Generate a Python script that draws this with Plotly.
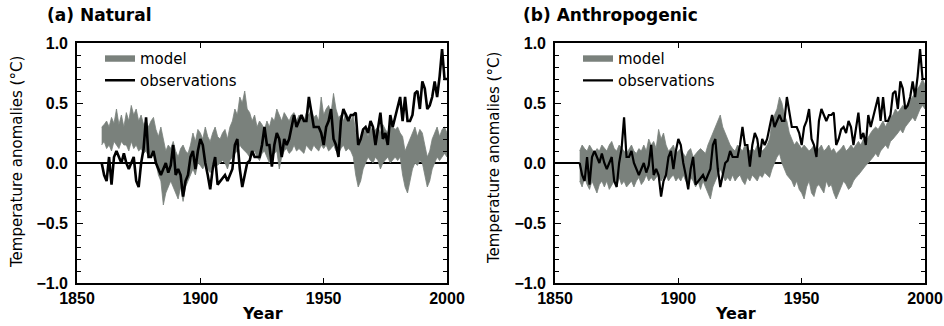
import plotly.graph_objects as go

years = list(range(1860, 2001))

observations = [
    0.00, -0.10, -0.15, 0.05, -0.18, 0.05, 0.10, 0.05, 0.00, 0.08,
    0.00, -0.05, 0.00, 0.05, -0.15, -0.20, 0.00, 0.12, 0.38, 0.05,
    0.05, 0.10, 0.00, -0.05, -0.10, -0.05, 0.00, -0.08, -0.02, 0.15,
    -0.10, -0.05, -0.10, -0.28, -0.15, -0.10, 0.05, 0.10, -0.05, 0.10,
    0.20, 0.15, 0.00, -0.10, -0.22, -0.05, 0.05, -0.18, -0.15, -0.12,
    -0.10, -0.15, -0.10, -0.05, 0.15, 0.20, -0.05, -0.20, -0.10, 0.00,
    0.02, 0.10, 0.05, 0.05, 0.05, 0.15, 0.30, 0.15, 0.15, -0.03,
    0.15, 0.25, 0.20, 0.05, 0.20, 0.15, 0.20, 0.30, 0.40, 0.30,
    0.35, 0.40, 0.35, 0.35, 0.55, 0.42, 0.30, 0.30, 0.30, 0.25,
    0.15, 0.30, 0.35, 0.45, 0.20, 0.15, 0.05, 0.35, 0.45, 0.40,
    0.35, 0.40, 0.40, 0.42, 0.15, 0.20, 0.28, 0.30, 0.25, 0.35,
    0.30, 0.15, 0.30, 0.42, 0.20, 0.25, 0.15, 0.40, 0.30, 0.38,
    0.45, 0.55, 0.35, 0.55, 0.35, 0.35, 0.40, 0.58, 0.60, 0.45,
    0.68, 0.62, 0.45, 0.48, 0.55, 0.68, 0.55, 0.72, 0.95, 0.70,
    0.70,
]

natural_upper = [
    0.30, 0.32, 0.35, 0.30, 0.38, 0.33, 0.45, 0.32, 0.40, 0.30,
    0.42, 0.35, 0.48, 0.40, 0.45, 0.35, 0.40, 0.32, 0.35, 0.30,
    0.35, 0.38, 0.28, 0.22, 0.30, 0.20, 0.10, 0.15, 0.12, 0.18,
    0.10, 0.05, 0.12, 0.15, 0.10, 0.08, 0.15, 0.25, 0.18, 0.28,
    0.25, 0.20, 0.30, 0.22, 0.18, 0.25, 0.30, 0.22, 0.20, 0.25,
    0.28, 0.20, 0.30, 0.35, 0.45, 0.40, 0.55, 0.50, 0.60, 0.45,
    0.42, 0.35, 0.40, 0.30, 0.35, 0.32, 0.28, 0.35, 0.30, 0.38,
    0.35, 0.45, 0.40, 0.35, 0.42, 0.38, 0.35, 0.40, 0.42, 0.35,
    0.40, 0.38, 0.35, 0.42, 0.40, 0.45, 0.38, 0.40, 0.35, 0.55,
    0.40, 0.45, 0.48, 0.42, 0.58, 0.45, 0.38, 0.40, 0.35, 0.42,
    0.38, 0.35, 0.40, 0.25, 0.15, 0.20, 0.25, 0.28, 0.22, 0.30,
    0.25, 0.28, 0.30, 0.25, 0.32, 0.28, 0.25, 0.35, 0.30, 0.28,
    0.30, 0.25, 0.22, 0.10, 0.15, 0.20, 0.25, 0.30, 0.22, 0.28,
    0.25, 0.15, 0.05, 0.10, 0.20, 0.25, 0.30, 0.22, 0.28, 0.30,
    0.25,
]

natural_lower = [
    0.15, 0.18, 0.12, 0.15, 0.10, 0.18, 0.15, 0.12, 0.18, 0.15,
    0.15, 0.10, 0.18, 0.12, 0.15, 0.10, 0.12, 0.08, 0.10, 0.05,
    0.05, 0.10, 0.00, -0.10, -0.15, -0.35, -0.25, -0.20, -0.15, -0.20,
    -0.25, -0.30, -0.20, -0.32, -0.20, -0.15, -0.10, -0.05, -0.10, 0.00,
    -0.02, -0.05, 0.00, -0.05, -0.08, 0.00, 0.02, -0.02, 0.00, 0.02,
    0.00, -0.05, 0.02, 0.05, 0.08, 0.10, 0.15, 0.12, 0.10, 0.08,
    0.05, 0.08, 0.10, 0.05, 0.02, 0.08, 0.10, 0.05, 0.00, 0.05,
    0.08, 0.10, -0.05, 0.05, 0.10, 0.12, 0.08, 0.10, 0.15, 0.10,
    0.12, 0.10, 0.08, 0.15, 0.12, 0.10, 0.15, 0.12, 0.10, 0.15,
    0.12, 0.15, 0.10, 0.12, 0.15, 0.10, 0.08, 0.12, 0.15, 0.10,
    0.12, 0.10, 0.05, -0.10, -0.20, -0.15, -0.05, 0.00, 0.05, 0.02,
    0.00, 0.05, 0.02, -0.05, 0.00, 0.02, 0.05, 0.00, 0.02, 0.05,
    0.02, 0.05, -0.10, -0.20, -0.25, -0.15, -0.05, 0.00, -0.02, 0.02,
    0.00, -0.10, -0.20, -0.15, -0.05, 0.00, 0.05, 0.02, 0.05, 0.08,
    0.05,
]

anthro_upper = [
    0.10, 0.15, 0.12, 0.10, 0.15, 0.12, 0.08, 0.12, 0.10, 0.15,
    0.12, 0.10, 0.15, 0.18, 0.12, 0.10, 0.15, 0.12, 0.10, 0.08,
    0.12, 0.15, 0.10, 0.08, 0.12, 0.10, 0.15, 0.10, 0.20, 0.15,
    0.18, 0.12, 0.28, 0.20, 0.25, 0.15, 0.10, 0.12, 0.15, 0.08,
    0.10, 0.12, 0.08, 0.05, 0.10, 0.12, 0.05, 0.08, 0.10, 0.12,
    0.10, 0.08, 0.15, 0.20, 0.25, 0.30, 0.35, 0.40, 0.30, 0.25,
    0.20, 0.15, 0.12, 0.10, 0.15, 0.12, 0.10, 0.15, 0.12, 0.10,
    0.12, 0.10, 0.15, 0.12, 0.10, 0.12, 0.15, 0.20, 0.35, 0.40,
    0.45, 0.55, 0.50, 0.40, 0.35, 0.25, 0.20, 0.15, 0.18, 0.15,
    0.12, 0.15, 0.12, 0.10, 0.12, 0.15, 0.10, 0.12, 0.15, 0.10,
    0.12, 0.15, 0.10, 0.12, 0.08, 0.10, 0.12, 0.15, 0.10, 0.12,
    0.15, 0.12, 0.15, 0.18, 0.15, 0.20, 0.18, 0.22, 0.25, 0.28,
    0.30, 0.28, 0.32, 0.35, 0.30, 0.35, 0.38, 0.40, 0.45, 0.42,
    0.45, 0.48, 0.45, 0.50, 0.52, 0.55, 0.58, 0.62, 0.65, 0.70,
    0.65,
]

anthro_lower = [
    -0.15, -0.20, -0.12, -0.18, -0.22, -0.15, -0.20, -0.25, -0.18, -0.15,
    -0.20, -0.15, -0.22, -0.18, -0.15, -0.20, -0.12, -0.18, -0.15, -0.20,
    -0.18, -0.15, -0.20, -0.15, -0.12, -0.18, -0.15, -0.10, -0.15, -0.12,
    -0.15, -0.12, -0.10, -0.15, -0.12, -0.10, -0.15, -0.12, -0.10, -0.15,
    -0.12, -0.15, -0.10, -0.15, -0.18, -0.12, -0.15, -0.20, -0.15, -0.22,
    -0.15, -0.20, -0.25, -0.30, -0.20, -0.15, -0.10, -0.05, -0.10, -0.15,
    -0.12, -0.15, -0.10, -0.15, -0.12, -0.10, -0.15, -0.18, -0.12, -0.15,
    -0.10, -0.12, -0.15, -0.10, -0.12, -0.08, -0.10, -0.12, -0.05, 0.00,
    0.05, 0.08, 0.00, -0.05, -0.10, -0.12, -0.15, -0.20, -0.15, -0.22,
    -0.25, -0.30, -0.20, -0.15, -0.25, -0.28, -0.20, -0.18, -0.22, -0.25,
    -0.15, -0.20, -0.18, -0.25, -0.30, -0.25, -0.20, -0.15, -0.18, -0.22,
    -0.20, -0.15, -0.12, -0.10, -0.08, -0.05, -0.02, 0.00, 0.02, 0.05,
    0.08, 0.05, 0.10, 0.12, 0.15, 0.12, 0.18, 0.20, 0.22, 0.25,
    0.28, 0.25, 0.30, 0.32, 0.35, 0.38, 0.35, 0.40, 0.45, 0.48,
    0.45,
]

panel_titles = ["(a) Natural", "(b) Anthropogenic"]
x_ticks = [1850, 1900, 1950, 2000]
y_ticks = [-1.0, -0.5, 0.0, 0.5, 1.0]

W, H = 944, 326
MT, MB = 43, 43
PH = H - MT - MB
BAND = "rgb(122,129,124)"

fig = go.Figure()

panels = [
    dict(upper=natural_upper, lower=natural_lower, xa="x", ya="y", legend="legend", lw=2.6),
    dict(upper=anthro_upper, lower=anthro_lower, xa="x2", ya="y2", legend="legend2", lw=2.2),
]

for p in panels:
    fig.add_trace(go.Scatter(
        x=years + years[::-1], y=p["upper"] + p["lower"][::-1],
        fill="toself", fillcolor=BAND, mode="lines",
        line=dict(color=BAND, width=0.8),
        name="model", xaxis=p["xa"], yaxis=p["ya"], legend=p["legend"],
    ))
    fig.add_trace(go.Scatter(
        x=years, y=observations, mode="lines",
        line=dict(color="black", width=p["lw"]),
        name="observations", xaxis=p["xa"], yaxis=p["ya"], legend=p["legend"],
    ))

tickfont = dict(family="Liberation Sans", size=16, color="black", weight="bold")


def xaxis(domain, anchor):
    return dict(domain=domain, anchor=anchor, range=[1850, 2000], tickvals=x_ticks,
                ticks="inside", ticklen=5, tickwidth=1.3, tickcolor="black",
                showline=True, linecolor="black", linewidth=1.6, mirror="ticks",
                showgrid=False, zeroline=False, tickfont=tickfont, automargin=False)


def yaxis(anchor):
    return dict(anchor=anchor, domain=[0, 1], range=[-1.0, 1.0], tickvals=y_ticks,
                tickformat=".1f", ticks="inside", ticklen=6, tickwidth=1.3, tickcolor="black",
                minor=dict(ticks="inside", ticklen=4, dtick=0.1, tickcolor="black", tickwidth=1),
                showline=True, linecolor="black", linewidth=1.6, mirror="ticks",
                showgrid=False, zeroline=True, zerolinecolor="black", zerolinewidth=1.6,
                tickfont=tickfont, ticklabelstandoff=4, automargin=False)


x1 = [77 / W, 447 / W]
x2 = [555 / W, 925 / W]

legend_common = dict(font=dict(family="DejaVu Sans", size=15, color="black"),
                     bgcolor="rgba(0,0,0,0)", borderwidth=0, itemwidth=30,
                     tracegroupgap=0, yanchor="top", xanchor="left", y=1.006)

fig.update_layout(
    width=W, height=H,
    margin=dict(l=0, r=0, t=MT, b=MB, autoexpand=False),
    paper_bgcolor="white", plot_bgcolor="white",
    xaxis=xaxis(x1, "y"), yaxis=yaxis("x"),
    xaxis2=xaxis(x2, "y2"), yaxis2=yaxis("x2"),
    legend=dict(x=100 / W, **legend_common),
    legend2=dict(x=578 / W, **legend_common),
    showlegend=True,
)


def py(pix):
    return 1 - (pix - MT) / PH


annotations = [
    dict(text=panel_titles[0], x=45 / W, y=py(15), xanchor="left", yanchor="middle",
         font=dict(family="DejaVu Sans", size=17, weight="bold", color="black")),
    dict(text=panel_titles[1], x=521 / W, y=py(15), xanchor="left", yanchor="middle",
         font=dict(family="DejaVu Sans", size=17, weight="bold", color="black")),
    dict(text="Temperature anomalies (°C)", x=17 / W, y=py(162), textangle=-90,
         xanchor="center", yanchor="middle",
         font=dict(family="DejaVu Sans", size=15, color="black")),
    dict(text="Temperature anomalies (°C)", x=494 / W, y=py(158), textangle=-90,
         xanchor="center", yanchor="middle",
         font=dict(family="DejaVu Sans", size=15, color="black")),
    dict(text="Year", x=262 / W, y=py(313), xanchor="center", yanchor="middle",
         font=dict(family="DejaVu Sans", size=16, weight="bold", color="black")),
    dict(text="Year", x=735 / W, y=py(313), xanchor="center", yanchor="middle",
         font=dict(family="DejaVu Sans", size=16, weight="bold", color="black")),
]
for a in annotations:
    a.update(xref="paper", yref="paper", showarrow=False)
fig.update_layout(annotations=annotations)

fig.write_html("out.html")
